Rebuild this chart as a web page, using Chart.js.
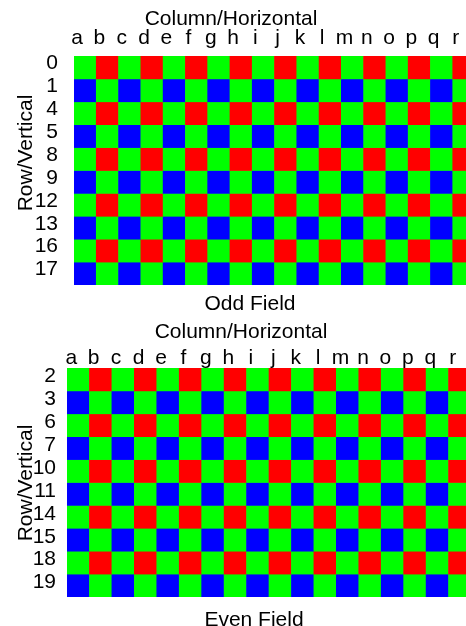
<!DOCTYPE html>
<html>
<head>
<meta charset="utf-8">
<script src="https://cdn.jsdelivr.net/npm/chart.js@4.4.1/dist/chart.umd.min.js"></script>
<style>
  html, body { margin: 0; padding: 0; background: #fff; overflow: hidden; }
  #odd { position: absolute; left: 0; top: 0; }
  #even { position: absolute; left: 0; top: 313px; }
</style>
</head>
<body>
<canvas id="odd" width="475" height="313"></canvas>
<canvas id="even" width="471" height="313"></canvas>
<script>
// columns and rows of the two fields
const columns = ['a', 'b', 'c', 'd', 'e', 'f', 'g', 'h', 'i', 'j', 'k', 'l', 'm', 'n', 'o', 'p', 'q', 'r'];
const oddRows = ['0', '1', '4', '5', '8', '9', '12', '13', '16', '17'];
const evenRows = ['2', '3', '6', '7', '10', '11', '14', '15', '18', '19'];

// cell colours, one string per row (G green, R red, B blue)
const oddCells = [
  'GRGRGRGRGRGRGRGRGR',
  'BGBGBGBGBGBGBGBGBG',
  'GRGRGRGRGRGRGRGRGR',
  'BGBGBGBGBGBGBGBGBG',
  'GRGRGRGRGRGRGRGRGR',
  'BGBGBGBGBGBGBGBGBG',
  'GRGRGRGRGRGRGRGRGR',
  'BGBGBGBGBGBGBGBGBG',
  'GRGRGRGRGRGRGRGRGR',
  'BGBGBGBGBGBGBGBGBG'
];
const evenCells = [
  'GRGRGRGRGRGRGRGRGR',
  'BGBGBGBGBGBGBGBGBG',
  'GRGRGRGRGRGRGRGRGR',
  'BGBGBGBGBGBGBGBGBG',
  'GRGRGRGRGRGRGRGRGR',
  'BGBGBGBGBGBGBGBGBG',
  'GRGRGRGRGRGRGRGRGR',
  'BGBGBGBGBGBGBGBGBG',
  'GRGRGRGRGRGRGRGRGR',
  'BGBGBGBGBGBGBGBGBG'
];

const xTitle = 'Column/Horizontal';
const yTitle = 'Row/Vertical';
const oddTitle = 'Odd Field';
const evenTitle = 'Even Field';

const palette = { G: '#00ff00', R: '#ff0000', B: '#0000ff' };
const fontFamily = "'Liberation Sans', Arial, sans-serif";

Chart.defaults.font.family = fontFamily;
Chart.defaults.font.size = 21;
Chart.defaults.color = '#000';

// axis titles and field name, placed like in the original figure
const fieldTitles = {
  id: 'fieldTitles',
  afterDraw(chart, args, o) {
    const ctx = chart.ctx;
    ctx.save();
    ctx.fillStyle = '#000';
    ctx.font = '21px ' + fontFamily;
    ctx.textAlign = 'center';
    ctx.textBaseline = 'alphabetic';
    ctx.fillText(xTitle, o.xTitleAt[0], o.xTitleAt[1]);
    ctx.fillText(o.name, o.nameAt[0], o.nameAt[1]);
    ctx.translate(o.yTitleAt[0], o.yTitleAt[1]);
    ctx.rotate(-Math.PI / 2);
    ctx.fillText(yTitle, 0, 0);
    ctx.restore();
  }
};

function drawField(id, rows, cells, o) {
  return new Chart(document.getElementById(id), {
    type: 'bar',
    data: {
      labels: columns,
      datasets: rows.map((r, i) => ({
        label: r,
        data: columns.map(() => 1),
        backgroundColor: cells[i].split('').map(c => palette[c]),
        borderWidth: 0,
        barPercentage: 1,
        categoryPercentage: 1
      }))
    },
    options: {
      responsive: false,
      animation: false,
      events: [],
      layout: { padding: { top: 0, left: 0, right: 0, bottom: o.bottom } },
      plugins: {
        legend: { display: false },
        tooltip: { enabled: false },
        fieldTitles: o
      },
      scales: {
        x: {
          position: 'top',
          stacked: true,
          grid: { display: false },
          border: { display: false },
          ticks: { autoSkip: false, maxRotation: 0, padding: o.xPad, labelOffset: o.xShift },
          afterFit: s => { s.height = o.top; }
        },
        y: {
          stacked: true,
          reverse: true,
          min: 0,
          max: rows.length,
          grid: { display: false },
          border: { display: false },
          ticks: {
            autoSkip: false,
            padding: o.yPad,
            labelOffset: o.yShift,
            callback: v => rows[Math.floor(v)]
          },
          afterBuildTicks: s => { s.ticks = rows.map((r, i) => ({ value: i + 0.5 })); },
          afterFit: s => { s.width = o.left; }
        }
      }
    },
    plugins: [fieldTitles]
  });
}

drawField('odd', oddRows, oddCells, {
  name: oddTitle, top: 56, left: 74, bottom: 28,
  xPad: -3, xShift: -8, yPad: 8, yShift: -4,
  xTitleAt: [231, 25], nameAt: [250, 310], yTitleAt: [32, 153]
});
drawField('even', evenRows, evenCells, {
  name: evenTitle, top: 55, left: 67, bottom: 29,
  xPad: -11, xShift: -7, yPad: 3, yShift: -3,
  xTitleAt: [241, 25], nameAt: [254, 313], yTitleAt: [32, 170]
});
</script>
</body>
</html>
